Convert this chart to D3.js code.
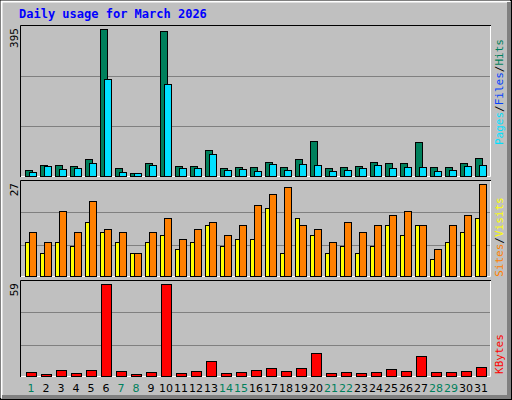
<!DOCTYPE html>
<html><head><meta charset="utf-8">
<script src="https://cdn.jsdelivr.net/npm/d3@7"></script>
<style>body{margin:0;background:#fff}svg{display:block}</style>
</head><body>
<script>
const days = d3.range(1, 32);
const weekendDays = [1,7,8,14,15,21,22,28,29];
const hits = [17,31,31,28,47,395,22,9,36,390,28,28,71,22,25,25,39,25,47,95,22,25,28,39,36,36,92,25,25,36,49];
const files = [12,28,20,22,36,261,12,9,31,248,22,22,60,17,20,14,33,17,33,31,14,17,22,31,22,25,25,14,17,28,31];
const sites = [10,7,10,9,16,13,10,7,10,12,8,10,15,9,11,11,20,7,17,12,7,9,7,9,15,12,15,5,10,13,17];
const visits = [13,10,19,13,22,14,13,7,13,17,11,14,16,12,15,21,24,26,15,14,10,16,13,15,18,19,15,8,15,18,27];
const kbytes = [2.8,1.5,4.1,2.2,4.1,59,3.4,1.5,2.8,59,2.2,3.4,9.9,2.2,2.8,4.1,5.4,3.4,5.4,15.1,2.2,2.8,2.2,2.8,4.7,3.4,13.1,2.8,2.8,3.4,6.0];
const title = "Daily usage for March 2026";
const maxLabels = ["395","27","59"];

const W=512,H=400;
const svg=d3.select("body").append("svg").attr("width",W).attr("height",H);
const mono="'DejaVu Sans Mono', monospace";
svg.append("rect").attr("width",W).attr("height",H).attr("fill","#c0c0c0");
// outer 3D border
svg.append("rect").attr("x",0.5).attr("y",0.5).attr("width",W-1).attr("height",H-1).attr("fill","none").attr("stroke","#000");
svg.append("path").attr("d",`M1.5,${H-2}V1.5H${W-2}`).attr("fill","none").attr("stroke","#fff").attr("stroke-width",2);
svg.append("path").attr("d",`M${W-3},2V${H-3}H2`).attr("fill","none").attr("stroke","#808080").attr("stroke-width",4);

svg.append("text").attr("x",19).attr("y",18).attr("fill","#0000ff").attr("font-family",mono)
  .attr("font-weight","bold").attr("font-size",12).text(title);

const x=d3.scaleBand().domain(days).range([25,490]).paddingInner(0).paddingOuter(0);
// x step 15
const panels=[
  {top:25,bot:177,max:395,label:maxLabels[0]},
  {top:180,bot:277,max:27,label:maxLabels[1]},
  {top:280,bot:377,max:59,label:maxLabels[2]}
];
panels.forEach(p=>{
  svg.append("rect").attr("x",20).attr("y",p.top).attr("width",471).attr("height",p.bot-p.top).attr("fill","#c0c0c0");
  p.y=d3.scaleLinear().domain([0,p.max]).range([p.bot-0.5,p.top+4]);
  const h=p.bot-p.top;
  [1/3,2/3].forEach(f=>{
    const yy=Math.round(p.bot-h*f)+0.5;
    svg.append("line").attr("x1",21).attr("x2",490).attr("y1",yy).attr("y2",yy).attr("stroke","#808080");
  });
  svg.append("path").attr("d",`M20.5,${p.bot}V${p.top+0.5}H491`).attr("fill","none").attr("stroke","#000");
  svg.append("path").attr("d",`M21,${p.bot-0.5}H490.5V${p.top+1}`).attr("fill","none").attr("stroke","#fff");
  svg.append("text").attr("transform",`translate(18,${p.top+3}) rotate(-90)`).attr("text-anchor","end")
    .attr("font-family",mono).attr("font-size",11).attr("fill","#000").text(p.label);
});

function bars(data,p,dx,w,color){
  svg.append("g").selectAll("rect").data(data).join("rect")
    .filter(d=>d>0)
    .attr("x",(d,i)=>x(days[i])+dx+0.5).attr("width",w)
    .attr("y",d=>Math.round(p.y(d))+0.5).attr("height",d=>p.bot-0.5-Math.round(p.y(d))-0.5)
    .attr("fill",color).attr("stroke","#000");
}
// filter on selection after join keeps index from data; use explicit
function bars2(data,p,dx,w,color){
  const g=svg.append("g");
  data.forEach((d,i)=>{
    if(d<=0)return;
    const yy=Math.round(p.y(d));
    g.append("rect").attr("x",x(days[i])+dx+0.5).attr("width",w).attr("y",yy+0.5)
     .attr("height",p.bot-1-yy).attr("fill",color).attr("stroke","#000");
  });
}
bars2(hits,panels[0],0,7,"#00805c");
bars2(files,panels[0],4,7,"#00e0ff");
bars2(sites,panels[1],0,4,"#ffff00");
bars2(visits,panels[1],4,7,"#ff8000");
bars2(kbytes,panels[2],1,10,"#ff0000");

// day labels
svg.append("g").selectAll("text").data(days).join("text")
  .attr("x",d=>x(d)+6).attr("y",392).attr("text-anchor","middle")
  .attr("font-family","'DejaVu Sans', sans-serif").attr("font-size",11)
  .attr("fill",d=>weekendDays.includes(d)?"#00805c":"#000").text(d=>d);

// right labels
function rlabel(yc,parts){
  const t=svg.append("text").attr("transform",`translate(504,${yc}) rotate(90)`).attr("text-anchor","middle")
    .attr("font-family",mono).attr("font-size",11);
  parts.forEach(([s,c])=>t.append("tspan").attr("fill",c).text(s));
}
rlabel(102,[["Pages","#00e0ff"],["/","#000"],["Files","#0040ff"],["/","#000"],["Hits","#00805c"]]);
rlabel(240,[["Sites","#ff8000"],["/","#000"],["Visits","#ffff00"]]);
// fix order: reference reads bottom-to-top "Sites / Visits" -> rotate -90
svg.selectAll("text").filter(function(){return this.getAttribute("transform")&&this.getAttribute("transform").includes("rotate(90)");}).remove();
function rlabelUp(yc,parts){
  const t=svg.append("text").attr("transform",`translate(503,${yc}) rotate(-90)`).attr("text-anchor","middle")
    .attr("font-family",mono).attr("font-size",11);
  parts.forEach(([s,c])=>t.append("tspan").attr("fill",c).text(s));
}
rlabelUp(92,[["Pages","#00e0ff"],["/","#000"],["Files","#0040ff"],["/","#000"],["Hits","#00805c"]]);
rlabelUp(237,[["Sites","#ff8000"],["/","#000"],["Visits","#ffff00"]]);
rlabelUp(354,[["KBytes","#ff0000"]]);
</script>
</body></html>
